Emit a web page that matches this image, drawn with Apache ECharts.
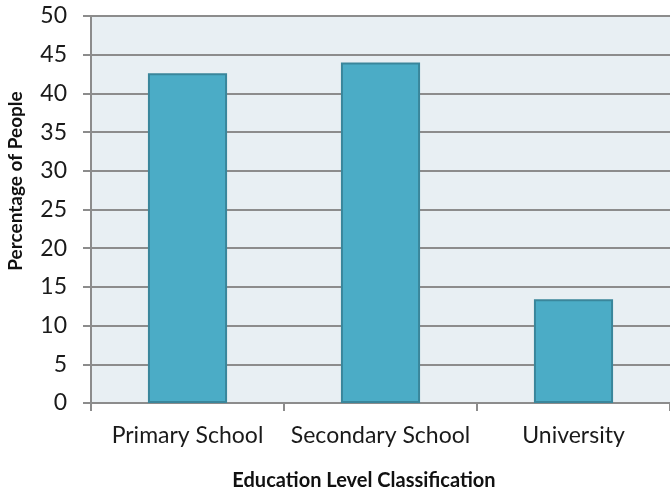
<!DOCTYPE html>
<html>
<head>
<meta charset="utf-8">
<script src="https://cdn.jsdelivr.net/npm/echarts@6/dist/echarts.min.js"></script>
<style>
  html, body { margin: 0; padding: 0; background: #ffffff; }
  #chart { width: 670px; height: 501px; }
</style>
</head>
<body>
<div id="chart"></div>
<script>
// Education level shares
const categories = ['Primary School', 'Secondary School', 'University'];
const percentages = [42.6, 44.0, 13.4];
const yTicks = { min: 0, max: 50, interval: 5 };

const FONT = 'Lato, "Open Sans", sans-serif';
const chart = echarts.init(document.getElementById('chart'), null, { renderer: 'canvas' });

chart.setOption({
  animation: false,
  grid: { left: 91, top: 16, width: 581, height: 387, containLabel: false,
          show: true, backgroundColor: '#e8eff3', borderWidth: 0 },
  xAxis: {
    type: 'category',
    data: categories,
    axisLine: { show: true, lineStyle: { color: '#8c8c8c', width: 2 } },
    axisTick: { show: true, alignWithLabel: false, length: 8, lineStyle: { color: '#8c8c8c', width: 2 } },
    axisLabel: { color: '#1a1a1a', fontFamily: FONT, fontSize: 23, margin: 21,
                 interval: 0, hideOverlap: false },
    splitLine: { show: false }
  },
  yAxis: {
    type: 'value',
    min: yTicks.min, max: yTicks.max, interval: yTicks.interval,
    axisLine: { show: true, lineStyle: { color: '#8c8c8c', width: 2 } },
    axisTick: { show: true, inside: false, length: 8, lineStyle: { color: '#8c8c8c', width: 2 } },
    axisLabel: { color: '#1a1a1a', fontFamily: FONT, fontSize: 23, margin: 24 },
    splitLine: { show: true, lineStyle: { color: '#8c8c8c', width: 2 } }
  },
  series: [{
    type: 'bar',
    data: percentages,
    barWidth: '41%',
    itemStyle: { color: '#4bacc6', borderColor: '#3a869b', borderWidth: 2 }
  }],
  graphic: [
    { type: 'text', x: 364, y: 481,
      style: { text: 'Education Level Classification', fontFamily: FONT, fontWeight: 'bold',
               fontSize: 20, fill: '#111111', align: 'center', verticalAlign: 'middle' } },
    { type: 'text', x: 16, y: 181, rotation: Math.PI / 2, originX: 0, originY: 0,
      style: { text: 'Percentage of People', fontFamily: FONT, fontWeight: 'bold',
               fontSize: 19, fill: '#111111', align: 'center', verticalAlign: 'middle' } }
  ]
});
</script>
</body>
</html>
